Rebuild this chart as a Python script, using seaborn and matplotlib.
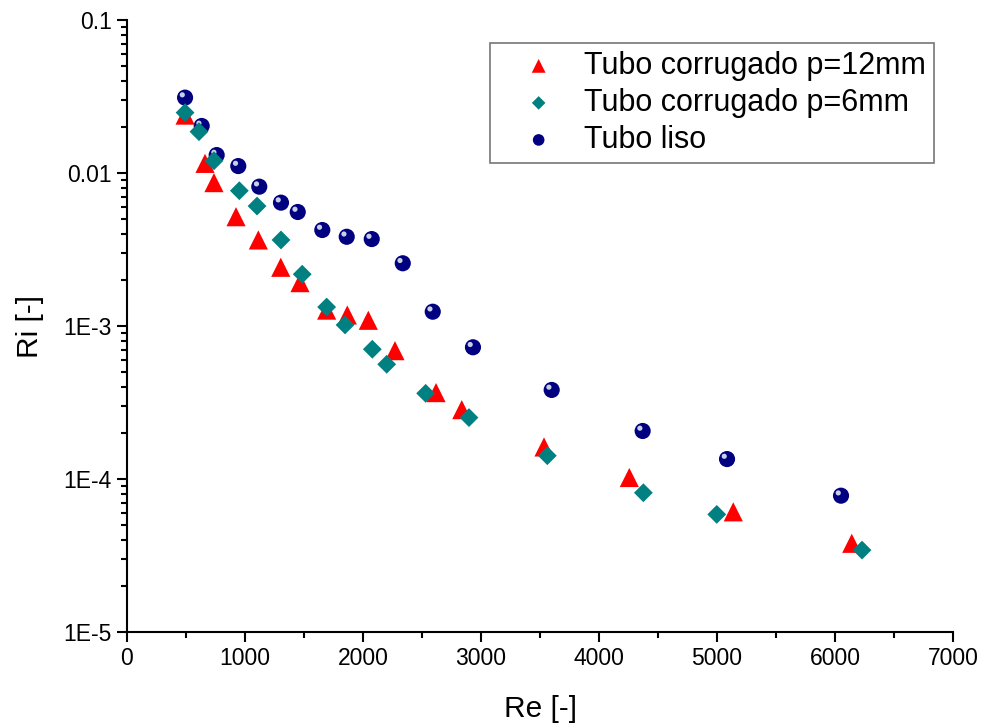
import numpy as np
import pandas as pd
import matplotlib
matplotlib.use("Agg")
import matplotlib.pyplot as plt
import matplotlib.transforms as mtransforms
from matplotlib.ticker import FixedLocator, NullFormatter, MultipleLocator
import seaborn as sns

# ---- data ----
re_p12 = [492, 661, 737, 924, 1113, 1303, 1466, 1692, 1867, 2045, 2271, 2619, 2837, 3534, 4257, 5138, 6142]
ri_p12 = [0.0239, 0.01156, 0.00865, 0.00518, 0.00365, 0.00242, 0.00192, 0.00127, 0.00118, 0.00109,
          0.00069, 0.000367, 0.000284, 0.000162, 0.0001023, 6.1e-5, 3.8e-5]

re_p6 = [492, 610, 737, 952, 1102, 1305, 1485, 1692, 1848, 2079, 2201, 2531, 2898, 3562, 4376, 4998, 6229]
ri_p6 = [0.0248, 0.01862, 0.01202, 0.00766, 0.00608, 0.00365, 0.00218, 0.00133, 0.001016, 0.000705,
         0.000562, 0.000363, 0.000252, 0.000142, 8.13e-5, 5.87e-5, 3.43e-5]

re_liso = [492, 633, 760, 943, 1121, 1305, 1447, 1655, 1862, 2074, 2337, 2591, 2932, 3599, 4370, 5085, 6051]
ri_liso = [0.0311, 0.0203, 0.0131, 0.0111, 0.00814, 0.0064, 0.00556, 0.00424, 0.00383, 0.00370,
           0.00257, 0.00124, 0.000726, 0.000382, 0.000206, 0.000135, 7.78e-5]

labels = ["Tubo corrugado p=12mm", "Tubo corrugado p=6mm", "Tubo liso"]
x_ticks = [0, 1000, 2000, 3000, 4000, 5000, 6000, 7000]
y_ticks = [1e-5, 1e-4, 1e-3, 1e-2, 1e-1]
y_ticklabels = ["1E-5", "1E-4", "1E-3", "0.01", "0.1"]

sns.set_style("white")
plt.rcParams["font.family"] = ["Liberation Sans", "DejaVu Sans"]
plt.rcParams["text.color"] = "black"
plt.rcParams["axes.labelcolor"] = "black"
plt.rcParams["xtick.color"] = "black"
plt.rcParams["ytick.color"] = "black"

fig = plt.figure(figsize=(9.86, 7.26), dpi=100)
ax = fig.add_axes([127/986, 94/726, 826/986, 612/726])

df_liso = pd.DataFrame({"Re": re_liso, "Ri": ri_liso})
df_p12 = pd.DataFrame({"Re": re_p12, "Ri": ri_p12})
df_p6 = pd.DataFrame({"Re": re_p6, "Ri": ri_p6})

sns.scatterplot(data=df_liso, x="Re", y="Ri", ax=ax, marker="o", s=135,
                color="#000080", edgecolor="none", linewidth=0, zorder=3, label=labels[2])
# highlight on the spheres
hl = mtransforms.offset_copy(ax.transData, fig=fig, x=-2.0, y=2.0, units="points")
ax.scatter(re_liso, ri_liso, s=14, color="#c8d0e8", edgecolor="none", transform=hl, zorder=4)
sns.scatterplot(data=df_p12, x="Re", y="Ri", ax=ax, marker="^", s=190,
                color="#ff0000", edgecolor="none", linewidth=0, zorder=5, label=labels[0])
sns.scatterplot(data=df_p6, x="Re", y="Ri", ax=ax, marker="D", s=92,
                color="#008080", edgecolor="none", linewidth=0, zorder=6, label=labels[1])

ax.set_yscale("log")
ax.set_xlim(0, 7000)
ax.set_ylim(1e-5, 0.1)

ax.xaxis.set_major_locator(FixedLocator(x_ticks))
ax.xaxis.set_minor_locator(MultipleLocator(500))
ax.set_xticklabels([str(t) for t in x_ticks])
ax.yaxis.set_major_locator(FixedLocator(y_ticks))
ax.set_yticklabels(y_ticklabels)
minors = [m * 10.0**e for e in range(-5, -1) for m in range(2, 10)]
ax.yaxis.set_minor_locator(FixedLocator(minors))
ax.yaxis.set_minor_formatter(NullFormatter())

for side in ["top", "right"]:
    ax.spines[side].set_visible(False)
for side in ["left", "bottom"]:
    ax.spines[side].set_linewidth(1.5)
    ax.spines[side].set_color("black")

ax.tick_params(axis="both", which="major", direction="out", length=7, width=1.5,
               labelsize=16.5, color="black", labelcolor="black", pad=4, bottom=True, left=True)
ax.tick_params(axis="both", which="minor", direction="out", length=4, width=1.5,
               color="black", bottom=True, left=True)

ax.set_xlabel("Re [-]", fontsize=21.5, labelpad=18, color="black")
ax.set_ylabel("Ri [-]", fontsize=21.5, labelpad=14, color="black")

handles, lbls = ax.get_legend_handles_labels()
order = [lbls.index(l) for l in labels]
leg = ax.legend([handles[i] for i in order], [lbls[i] for i in order],
                loc="upper right", bbox_to_anchor=(0.977, 0.962), borderaxespad=0,
                fontsize=22, frameon=True, fancybox=False, edgecolor="#555555",
                handletextpad=0.15, borderpad=0.25, labelspacing=0.23, handlelength=2.7,
                markerscale=0.72)
leg.get_frame().set_linewidth(1.2)
for t in leg.get_texts():
    t.set_color("black")

fig.savefig("out.png", dpi=100, facecolor="white")
